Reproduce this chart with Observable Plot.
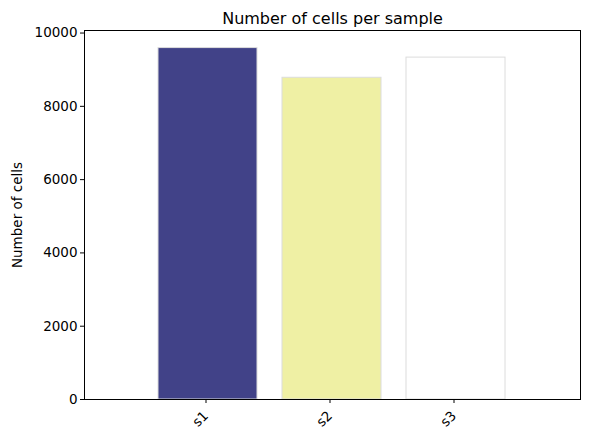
<!DOCTYPE html>
<html>
<head>
<meta charset="utf-8">
<script src="https://cdn.jsdelivr.net/npm/d3@7"></script>
<script src="https://cdn.jsdelivr.net/npm/@observablehq/plot@0.6"></script>
<style>
  html, body { margin: 0; padding: 0; background: #fff; }
</style>
</head>
<body>
<div id="chart"></div>
<script>
const samples = ["s1", "s2", "s3"];
const cellCounts = [9590, 8780, 9330];
const barColors = ["#414288", "#eff0a4", "#ffffff"];
const yTicks = [0, 2000, 4000, 6000, 8000, 10000];
const title = "Number of cells per sample";
const yLabel = "Number of cells";

const data = samples.map((s, i) => ({sample: s, count: cellCounts[i], color: barColors[i]}));
const yMax = d3.max(cellCounts) * 1.05;

const chart = Plot.plot({
  width: 589,
  height: 440,
  marginLeft: 84,
  marginRight: 9,
  marginTop: 30,
  marginBottom: 41,
  style: {fontFamily: "DejaVu Sans", fontSize: "13.5px", color: "#000", background: "#fff"},
  x: {domain: samples, paddingInner: 0.2, paddingOuter: 0.6, label: null},
  y: {domain: [0, yMax], label: null},
  color: {type: "identity"},
  marks: [
    Plot.barY(data, {x: "sample", y: "count", fill: "color", stroke: "#dcdcdc", strokeWidth: 1}),
    Plot.axisX({tickRotate: -45, tickSize: 4, tickPadding: 10, dx: -2, label: null, fontSize: "13.5px"}),
    Plot.axisY({ticks: yTicks, tickSize: 4, tickPadding: 3, tickFormat: d3.format("d"),
      label: yLabel, labelAnchor: "center", labelArrow: "none", labelOffset: 72}),
    Plot.frame({stroke: "#000", strokeWidth: 1}),
    Plot.text([title], {frameAnchor: "top", dy: -18, text: d => d, fontSize: "16px", fill: "#000"})
  ]
});
document.getElementById("chart").appendChild(chart);
</script>
</body>
</html>
